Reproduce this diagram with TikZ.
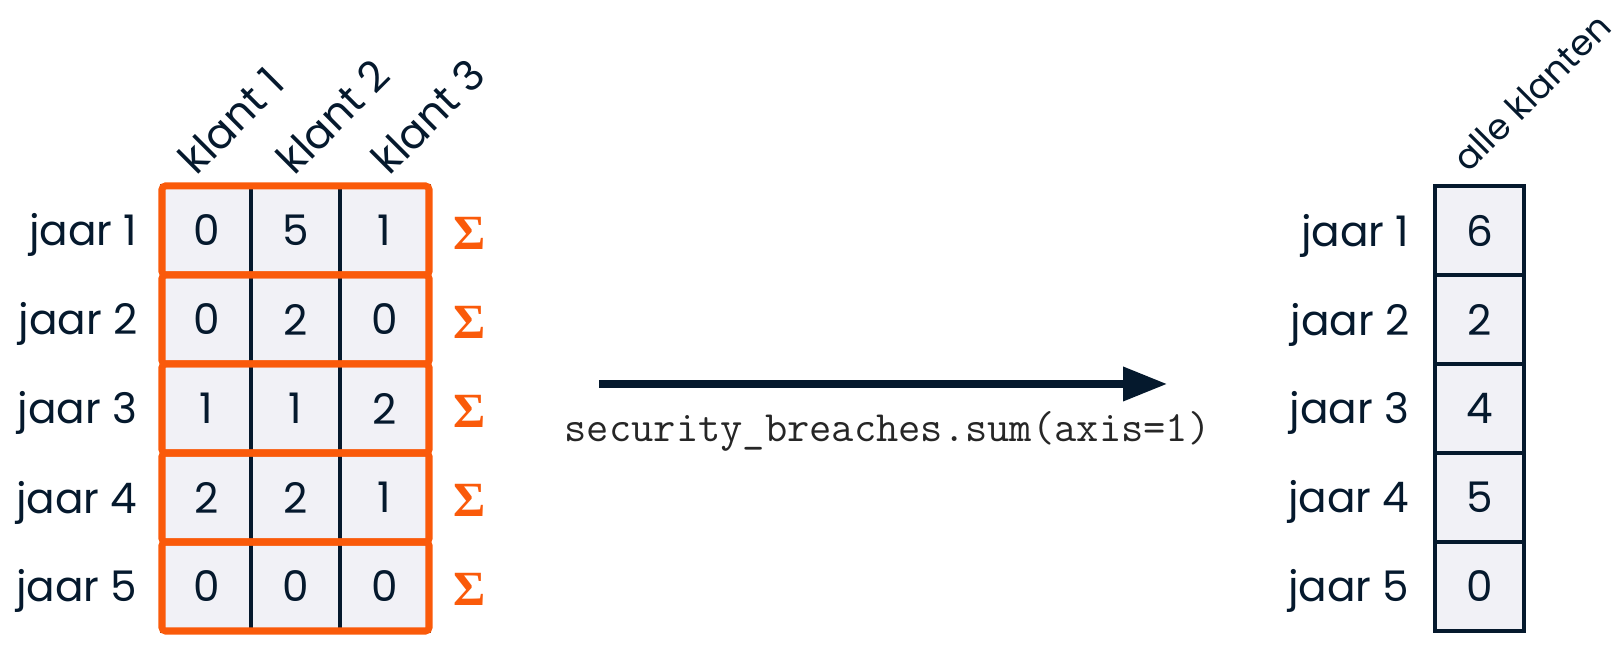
\documentclass[tikz,border=0pt]{standalone}
\usepackage{fontspec}
\setmainfont{Poppins}
\newfontfamily\somfont{Liberation Serif}
\usetikzlibrary{arrows.meta}
\definecolor{navy}{RGB}{5,25,45}
\definecolor{oranje}{RGB}{250,90,10}
\definecolor{vak}{RGB}{241,241,246}

\begin{document}
\begin{tikzpicture}[
  cel/.style={draw=navy, line width=1.2pt, fill=vak, minimum width=0.89cm, minimum height=0.89cm, inner sep=0pt, outer sep=0pt, text=navy, font=\fontsize{12}{14}\selectfont},
  jaar/.style={anchor=base east, inner sep=0pt, text=navy, font=\fontsize{12}{14}\selectfont},
  kop/.style={anchor=south west, rotate=45, inner sep=0pt, text=navy, font=\fontsize{12}{14}\selectfont},
  rij/.style={draw=oranje, line width=2pt, rounded corners=1pt},
  som/.style={text=oranje, font=\fontsize{14}{16}\somfont\bfseries},
  pijl/.style={draw=navy, line width=2pt, -{Triangle[length=4.4mm, width=3.3mm]}},
  code/.style={anchor=base, text=black!85, font=\fontsize{12.3}{14}\ttfamily}
]
\useasboundingbox (0,0) rectangle (16.16,6.56);

% linker tabel
\node[cel] (v11) at (2.065,4.255) {0};
\node[cel] (v12) at (2.955,4.255) {5};
\node[cel] (v13) at (3.845,4.255) {1};
\node[cel] (v21) at (2.065,3.365) {0};
\node[cel] (v22) at (2.955,3.365) {2};
\node[cel] (v23) at (3.845,3.365) {0};
\node[cel] (v31) at (2.065,2.475) {1};
\node[cel] (v32) at (2.955,2.475) {1};
\node[cel] (v33) at (3.845,2.475) {2};
\node[cel] (v41) at (2.065,1.585) {2};
\node[cel] (v42) at (2.955,1.585) {2};
\node[cel] (v43) at (3.845,1.585) {1};
\node[cel] (v51) at (2.065,0.695) {0};
\node[cel] (v52) at (2.955,0.695) {0};
\node[cel] (v53) at (3.845,0.695) {0};

\draw[rij] (v11.north west) rectangle (v13.south east);
\draw[rij] (v21.north west) rectangle (v23.south east);
\draw[rij] (v31.north west) rectangle (v33.south east);
\draw[rij] (v41.north west) rectangle (v43.south east);
\draw[rij] (v51.north west) rectangle (v53.south east);

\node[jaar] (jl1) at ([xshift=-2.4mm]v11.base west) {jaar 1};
\node[jaar] (jl2) at ([xshift=-2.4mm]v21.base west) {jaar 2};
\node[jaar] (jl3) at ([xshift=-2.4mm]v31.base west) {jaar 3};
\node[jaar] (jl4) at ([xshift=-2.4mm]v41.base west) {jaar 4};
\node[jaar] (jl5) at ([xshift=-2.4mm]v51.base west) {jaar 5};

\node[kop] (k1) at ([xshift=3.5mm, yshift=0.8mm]v11.north west) {klant 1};
\node[kop] (k2) at ([xshift=4.4mm, yshift=0.8mm]v12.north west) {klant 2};
\node[kop] (k3) at ([xshift=5.0mm, yshift=0.8mm]v13.north west) {klant 3};

\node[som] (s1) at ([xshift=4.1mm, yshift=-0.3mm]v13.east) {Σ};
\node[som] (s2) at ([xshift=4.1mm, yshift=-0.3mm]v23.east) {Σ};
\node[som] (s3) at ([xshift=4.1mm, yshift=-0.3mm]v33.east) {Σ};
\node[som] (s4) at ([xshift=4.1mm, yshift=-0.3mm]v43.east) {Σ};
\node[som] (s5) at ([xshift=4.1mm, yshift=-0.3mm]v53.east) {Σ};

% pijl met code
\coordinate (van) at (5.99,2.72);
\coordinate (naar) at (11.67,2.72);
\draw[pijl] (van) -- (naar);
\node[code] (sum) at (8.875,2.14) {security\_breaches.sum(axis=1)};

% rechter kolom
\node[cel] (t1) at (14.795,4.255) {6};
\node[cel] (t2) at (14.795,3.365) {2};
\node[cel] (t3) at (14.795,2.475) {4};
\node[cel] (t4) at (14.795,1.585) {5};
\node[cel] (t5) at (14.795,0.695) {0};

\node[jaar] (jr1) at ([xshift=-2.5mm]t1.base west) {jaar 1};
\node[jaar] (jr2) at ([xshift=-2.5mm]t2.base west) {jaar 2};
\node[jaar] (jr3) at ([xshift=-2.5mm]t3.base west) {jaar 3};
\node[jaar] (jr4) at ([xshift=-2.5mm]t4.base west) {jaar 4};
\node[jaar] (jr5) at ([xshift=-2.5mm]t5.base west) {jaar 5};

\node[kop, font=\fontsize{10.1}{12}\selectfont] (alle) at ([xshift=3.4mm, yshift=1.1mm]t1.north west) {alle klanten};
\end{tikzpicture}
\end{document}
